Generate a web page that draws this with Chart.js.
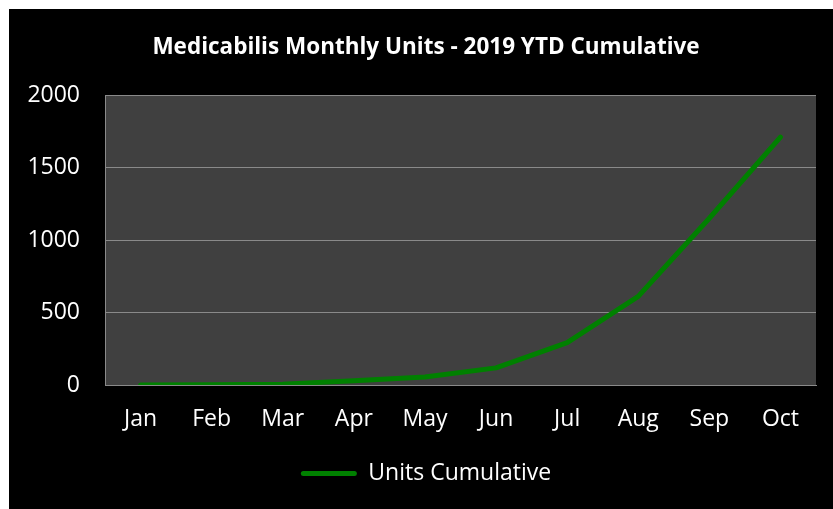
<!DOCTYPE html>
<html>
<head>
<meta charset="utf-8">
<script src="https://cdn.jsdelivr.net/npm/chart.js@4/dist/chart.umd.min.js"></script>
<style>
  body { margin: 0; background: #fff; }
  #box { position: absolute; left: 9px; top: 9px; width: 824px; height: 500px; background: #000; }
</style>
</head>
<body>
<div id="box"><canvas id="unitsChart" width="824" height="500"></canvas></div>
<script>
// values
const months = ['Jan', 'Feb', 'Mar', 'Apr', 'May', 'Jun', 'Jul', 'Aug', 'Sep', 'Oct'];
const unitsCumulative = [0, 2, 6, 30, 55, 118, 292, 611, 1150, 1710];
const yTicks = [0, 500, 1000, 1500, 2000];

const FONT = '"Open Sans", sans-serif';
const GREEN = '#008000';
const GRID = '#8a8a8a';

// dark grey plot area
const plotBg = {
    id: 'plotBg',
    beforeDraw(chart) {
        const { ctx, chartArea: a } = chart;
        ctx.save();
        ctx.fillStyle = '#404040';
        ctx.fillRect(a.left, a.top, a.right - a.left, a.bottom - a.top);
        ctx.restore();
    }
};

// title and legend sit a bit right of the canvas centre in the original
const nudgeCentre = {
    id: 'nudgeCentre',
    afterLayout(chart) {
        chart.titleBlock.left = 27;
        chart.legend.left = 27;
    }
};

const ctx = document.getElementById('unitsChart').getContext('2d');
new Chart(ctx, {
    type: 'line',
    data: {
        labels: months,
        datasets: [{
            label: 'Units Cumulative',
            data: unitsCumulative,
            borderColor: GREEN,
            backgroundColor: GREEN,
            borderWidth: 5,
            borderCapStyle: 'round',
            borderJoinStyle: 'round',
            pointRadius: 0,
            tension: 0
        }]
    },
    options: {
        responsive: false,
        animation: false,
        layout: { padding: { left: 0, right: 17, bottom: 14 } },
        plugins: {
            title: {
                display: true,
                text: 'Medicabilis Monthly Units - 2019 YTD Cumulative',
                color: '#fff',
                font: { family: FONT, size: 22.5, weight: 'bold' },
                padding: { top: 25, bottom: 34 }
            },
            legend: {
                position: 'bottom',
                labels: {
                    color: '#fff',
                    font: { family: FONT, size: 23 },
                    boxWidth: 56,
                    boxHeight: 5,
                    padding: 8,
                    useBorderRadius: true,
                    borderRadius: 2.5,
                    generateLabels: chart =>
                        Chart.defaults.plugins.legend.labels.generateLabels(chart)
                            .map(l => ({ ...l, lineWidth: 0, fontColor: '#fff' }))
                }
            },
            tooltip: { enabled: false }
        },
        scales: {
            x: {
                offset: true,
                grid: { display: false, offset: true },
                border: { display: true, color: GRID, width: 1 },
                ticks: { color: '#fff', font: { family: FONT, size: 23 }, padding: 13, maxRotation: 0 },
                afterFit(scale) { scale.height = 69; }
            },
            y: {
                min: 0,
                max: 2000,
                afterBuildTicks(scale) { scale.ticks = yTicks.map(v => ({ value: v })); },
                grid: { color: GRID, lineWidth: 1, drawTicks: false },
                border: { display: true, color: GRID, width: 1 },
                ticks: { color: '#fff', font: { family: FONT, size: 23 }, padding: 25, callback: v => String(v) },
                afterFit(scale) { scale.width = 96; }
            }
        }
    },
    plugins: [plotBg, nudgeCentre]
});
</script>
</body>
</html>
